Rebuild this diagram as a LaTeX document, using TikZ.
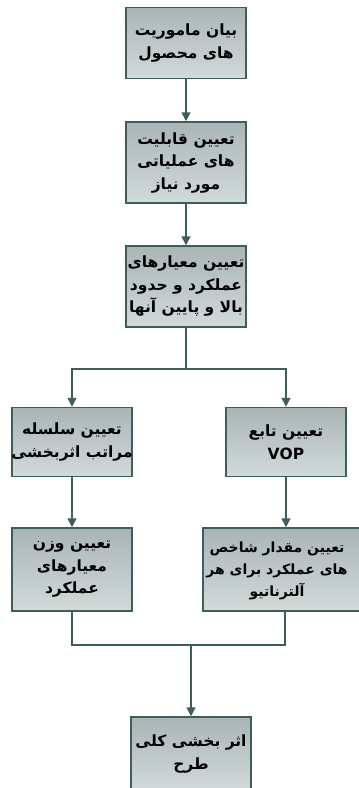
\documentclass[tikz,border=0pt]{standalone}
\usepackage{fontspec}
\newfontfamily\fa[Script=Arabic]{DejaVu Sans}
\TeXXeTstate=1
\usetikzlibrary{arrows.meta}
\definecolor{edge}{HTML}{3E5E5E}
\definecolor{boxtop}{HTML}{A9B5B5}
\definecolor{boxbot}{HTML}{D2DADA}
\newcommand{\rl}[1]{\makebox[0pt]{\beginR #1\endR}}
\tikzset{
  stepbox/.style={draw=edge, line width=1.5pt, top color=boxtop, bottom color=boxbot,
    minimum width=120pt, inner sep=0pt, align=center,
    font=\fa\bfseries\fontsize{15.5}{22.5}\selectfont},
  boxtext/.style={inner sep=0pt, align=center,
    font=\fa\bfseries\fontsize{14}{22}\selectfont},
  link/.style={draw=edge, line width=1.5pt},
  arr/.style={link, -{Triangle[length=9pt,width=9pt]}}
}
\begin{document}
\begin{tikzpicture}[x=1pt,y=-1pt]
\useasboundingbox (0,0) rectangle (359,788);
\fill[white] (0,0) rectangle (359,788);
\node[stepbox, minimum height=71pt] (b1) at (186,43) {\rl{بیان ماموریت}\\\rl{های محصول}};
\node[stepbox, minimum height=81pt] (b2) at (186,162.5) {\rl{تعیین قابلیت}\\\rl{های عملیاتی}\\\rl{مورد نیاز}};
\node[stepbox, minimum height=81pt] (b3) at (186,286.5) {\rl{تعیین معیارهای}\\\rl{عملکرد و حدود}\\\rl{بالا و پایین آنها}};
\node[stepbox, minimum height=69pt] (b4) at (72,442) {\rl{تعیین سلسله}\\\rl{مراتب اثربخشی}};
\node[stepbox, minimum height=69pt] (b5) at (286,442) {\rl{تعیین تابع}\\\makebox[0pt]{VOP}};
\node[stepbox, minimum height=83pt] (b6) at (72,569.5) {\rl{تعیین وزن}\\\rl{معیارهای}\\\rl{عملکرد}};
\node[stepbox, minimum height=83pt, minimum width=164pt] (b7) at (285,569.5) {};
\node[boxtext] (b7t) at (277,571) {\rl{تعیین مقدار شاخص}\\\rl{های عملکرد برای هر}\\\rl{آلترناتیو}};
\node[stepbox, minimum height=74pt] (b8) at (191,754) {\rl{اثر بخشی کلی}\\\rl{طرح}};
\coordinate (j1) at (186,369);
\coordinate (j2) at (191,645);
\draw[arr] (b1) -- (b2);
\draw[arr] (b2) -- (b3);
\draw[link] (b3) -- (j1);
\draw[arr] (j1) -| (b4);
\draw[arr] (j1) -| (b5);
\draw[arr] (b4) -- (b6);
\draw[arr] (b5) -- (b5 |- b7.north);
\draw[link] (b6.south) |- (j2);
\draw[link] (b7.south) |- (j2);
\draw[arr] (j2) -- (b8);
\end{tikzpicture}
\end{document}
